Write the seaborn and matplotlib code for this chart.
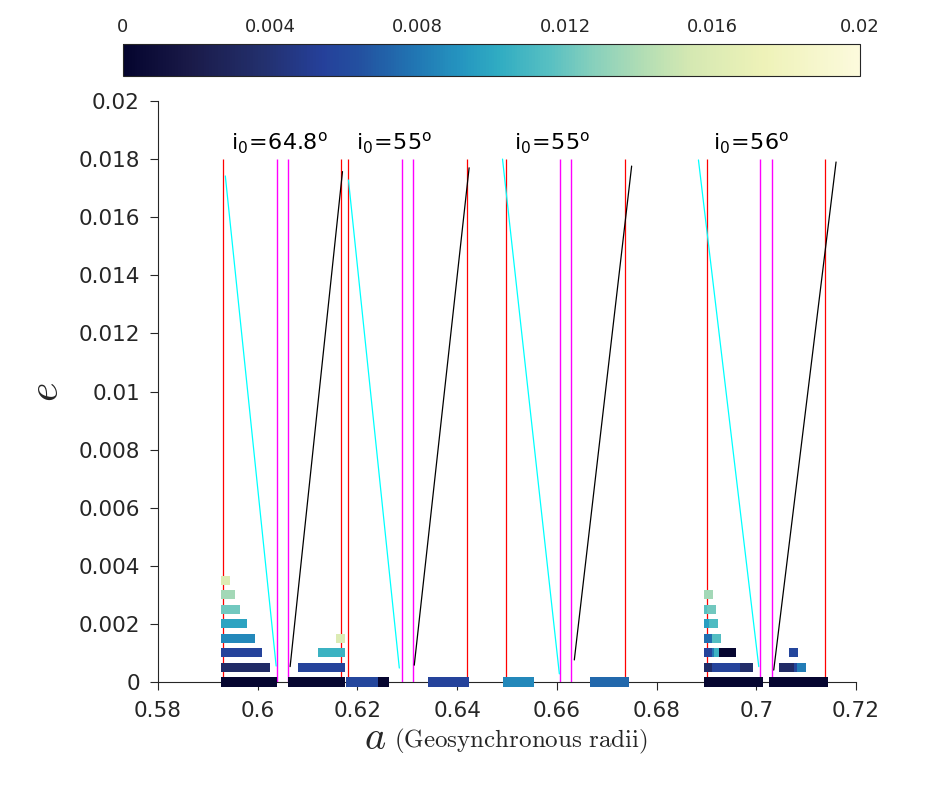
import matplotlib
matplotlib.use("Agg")
import matplotlib.pyplot as plt
import seaborn as sns
import pandas as pd
from matplotlib.colors import LinearSegmentedColormap, Normalize
from matplotlib.cm import ScalarMappable

# ---------------- data ----------------
x_ticks = [0.58, 0.60, 0.62, 0.64, 0.66, 0.68, 0.70, 0.72]
x_tick_labels = ["0.58", "0.6", "0.62", "0.64", "0.66", "0.68", "0.7", "0.72"]
y_ticks = [0, 0.002, 0.004, 0.006, 0.008, 0.010, 0.012, 0.014, 0.016, 0.018, 0.020]
y_tick_labels = ["0", "0.002", "0.004", "0.006", "0.008", "0.01",
                 "0.012", "0.014", "0.016", "0.018", "0.02"]
cbar_ticks = [0, 0.004, 0.008, 0.012, 0.016, 0.020]
cbar_tick_labels = ["0", "0.004", "0.008", "0.012", "0.016", "0.02"]

# vertical boundary lines (semi-major axis)
red_a = [0.5931, 0.6168, 0.6182, 0.6419, 0.6498, 0.6737, 0.6902, 0.7138]
magenta_a = [0.6038, 0.6061, 0.6289, 0.6312, 0.6607, 0.6629, 0.7008, 0.7032]
line_e_top = 0.018

# cyan (constant apogee) and black (constant perigee) boundary curves
cyan_a_top = [0.5935, 0.6182, 0.6491, 0.6884]
cyan_e_top = [0.01742, 0.01728, 0.01800, 0.01797]
cyan_a_bot = [0.6037, 0.6284, 0.6605, 0.7005]
cyan_e_bot = [0.00055, 0.00048, 0.00028, 0.00053]
black_a_bot = [0.6065, 0.6314, 0.6635, 0.7035]
black_e_bot = [0.00053, 0.00058, 0.00076, 0.00041]
black_a_top = [0.6170, 0.6424, 0.6750, 0.7160]
black_e_top = [0.01757, 0.01770, 0.01776, 0.01790]

# inclination annotations
label_a = [0.5946, 0.6197, 0.6514, 0.6914]
label_text = [r"i$_0\!=\!$64.8$^\mathrm{o}$", r"i$_0\!=\!$55$^\mathrm{o}$",
              r"i$_0\!=\!$55$^\mathrm{o}$", r"i$_0\!=\!$56$^\mathrm{o}$"]
label_e = 0.01831

# coloured cells (eccentricity row, a-range, colour value)
cell_e = [0, 0, 0, 0, 0, 0, 0, 0, 0,
          0.0005, 0.0005, 0.0005, 0.0005, 0.0005, 0.0005, 0.0005, 0.0005,
          0.001, 0.001, 0.001, 0.001, 0.001, 0.001, 0.001,
          0.0015, 0.0015, 0.0015, 0.0015,
          0.002, 0.002, 0.002,
          0.0025, 0.0025, 0.0025,
          0.003, 0.003,
          0.0035]
cell_a_left = [0.59264, 0.60607, 0.61770, 0.62412, 0.63415, 0.64919, 0.66664, 0.68950, 0.70254,
               0.59264, 0.60808, 0.68950, 0.69110, 0.69672, 0.70455, 0.70756, 0.70816,
               0.59264, 0.61209, 0.68950, 0.69110, 0.69150, 0.69251, 0.70655,
               0.59264, 0.61570, 0.68950, 0.69110,
               0.59264, 0.68950, 0.69050,
               0.59264, 0.68950, 0.69010,
               0.59264, 0.68950,
               0.59264]
cell_a_right = [0.60387, 0.61750, 0.62412, 0.62633, 0.64237, 0.65541, 0.67446, 0.70134, 0.71438,
                0.60246, 0.61750, 0.69110, 0.69672, 0.69933, 0.70756, 0.70816, 0.70996,
                0.60086, 0.61750, 0.69110, 0.69150, 0.69251, 0.69592, 0.70836,
                0.59946, 0.61750, 0.69110, 0.69291,
                0.59785, 0.69050, 0.69231,
                0.59645, 0.69010, 0.69191,
                0.59545, 0.69130,
                0.59444]
cell_value = [0.0002, 0.0003, 0.0058, 0.0002, 0.0056, 0.0086, 0.0074, 0.0002, 0.0002,
              0.0034, 0.0056, 0.0034, 0.0056, 0.0036, 0.0034, 0.0058, 0.0082,
              0.0056, 0.0106, 0.0056, 0.0080, 0.0106, 0.0002, 0.0058,
              0.0086, 0.0160, 0.0076, 0.0114,
              0.0098, 0.0096, 0.0112,
              0.0122, 0.0116, 0.0122,
              0.0136, 0.0136,
              0.0160]

# ---------------- style ----------------
sns.set_theme(style="ticks")
plt.rcParams["font.family"] = ["DejaVu Sans"]
plt.rcParams["axes.edgecolor"] = "#262626"
plt.rcParams["axes.linewidth"] = 0.8

cmap = LinearSegmentedColormap.from_list("haline_like", [
    (0.00, "#04042e"), (0.09, "#1a1a48"), (0.19, "#23306e"), (0.27, "#25409a"),
    (0.32, "#2350a0"), (0.40, "#2178b4"), (0.46, "#2596c0"), (0.51, "#30acc2"),
    (0.58, "#58c0c2"), (0.64, "#88d0bc"), (0.71, "#b4deb4"), (0.77, "#d4e8b2"),
    (0.87, "#eef2b8"), (1.00, "#fcfadc")])
norm = Normalize(vmin=0, vmax=0.02)

fig = plt.figure(figsize=(9.48, 7.98), dpi=100)
ax = fig.add_axes([158 / 948, 1 - 682 / 798, 698 / 948, 581 / 798])
cax = fig.add_axes([123 / 948, 1 - 76 / 798, 737 / 948, 32 / 798])

# vertical lines
ax.vlines(red_a, 0, line_e_top, colors="#ff0000", linewidth=0.9, zorder=2)
ax.vlines(magenta_a, 0, line_e_top, colors="#ff00ff", linewidth=1.0, zorder=2)

# boundary curves
for i in range(len(cyan_a_top)):
    seg = pd.DataFrame({"a": [cyan_a_top[i], cyan_a_bot[i]], "e": [cyan_e_top[i], cyan_e_bot[i]]})
    sns.lineplot(data=seg, x="a", y="e", ax=ax, color="#00ffff", linewidth=0.9,
                 sort=False, estimator=None, zorder=2)
    seg = pd.DataFrame({"a": [black_a_bot[i], black_a_top[i]], "e": [black_e_bot[i], black_e_top[i]]})
    sns.lineplot(data=seg, x="a", y="e", ax=ax, color="black", linewidth=0.9,
                 sort=False, estimator=None, zorder=2)

# coloured cells
widths = [r - l for l, r in zip(cell_a_left, cell_a_right)]
ax.barh(cell_e, widths, left=cell_a_left, height=0.00031,
        color=cmap(norm(cell_value)), linewidth=0, zorder=3, clip_on=False)

# annotations
for a, t in zip(label_a, label_text):
    ax.text(a, label_e, t, fontsize=16, ha="left", va="baseline", color="black")

ax.set_xlim(0.58, 0.72)
ax.set_ylim(0, 0.02)
ax.set_xticks(x_ticks)
ax.set_xticklabels(x_tick_labels)
ax.set_yticks(y_ticks)
ax.set_yticklabels(y_tick_labels)
ax.tick_params(axis="both", direction="out", length=6, width=0.8, labelsize=15.5,
               colors="#262626")
ax.tick_params(axis="x", pad=8)
ax.tick_params(axis="y", pad=7)
ax.set_xlabel("")
ax.set_ylabel(r"$e$", fontsize=30, math_fontfamily="cm", labelpad=8, color="#262626")
sns.despine(ax=ax)

ax.text(0.3266, -0.116, r"$a$", transform=ax.transAxes, fontsize=29,
        math_fontfamily="cm", ha="right", va="baseline", color="#262626")
ax.text(0.3380, -0.113, r"$\mathrm{(Geosynchronous\ radii)}$", transform=ax.transAxes,
        fontsize=18, math_fontfamily="cm", ha="left", va="baseline", color="#262626")

# colorbar
sm = ScalarMappable(norm=norm, cmap=cmap)
cb = fig.colorbar(sm, cax=cax, orientation="horizontal")
cb.set_ticks(cbar_ticks)
cb.set_ticklabels(cbar_tick_labels)
cax.xaxis.set_ticks_position("top")
cax.xaxis.set_label_position("top")
cax.tick_params(direction="in", length=5, width=0.6, labelsize=13, pad=5.5,
                colors="#262626")
cb.outline.set_linewidth(0.8)
cb.outline.set_edgecolor("#262626")

fig.savefig("out.png", dpi=100)
